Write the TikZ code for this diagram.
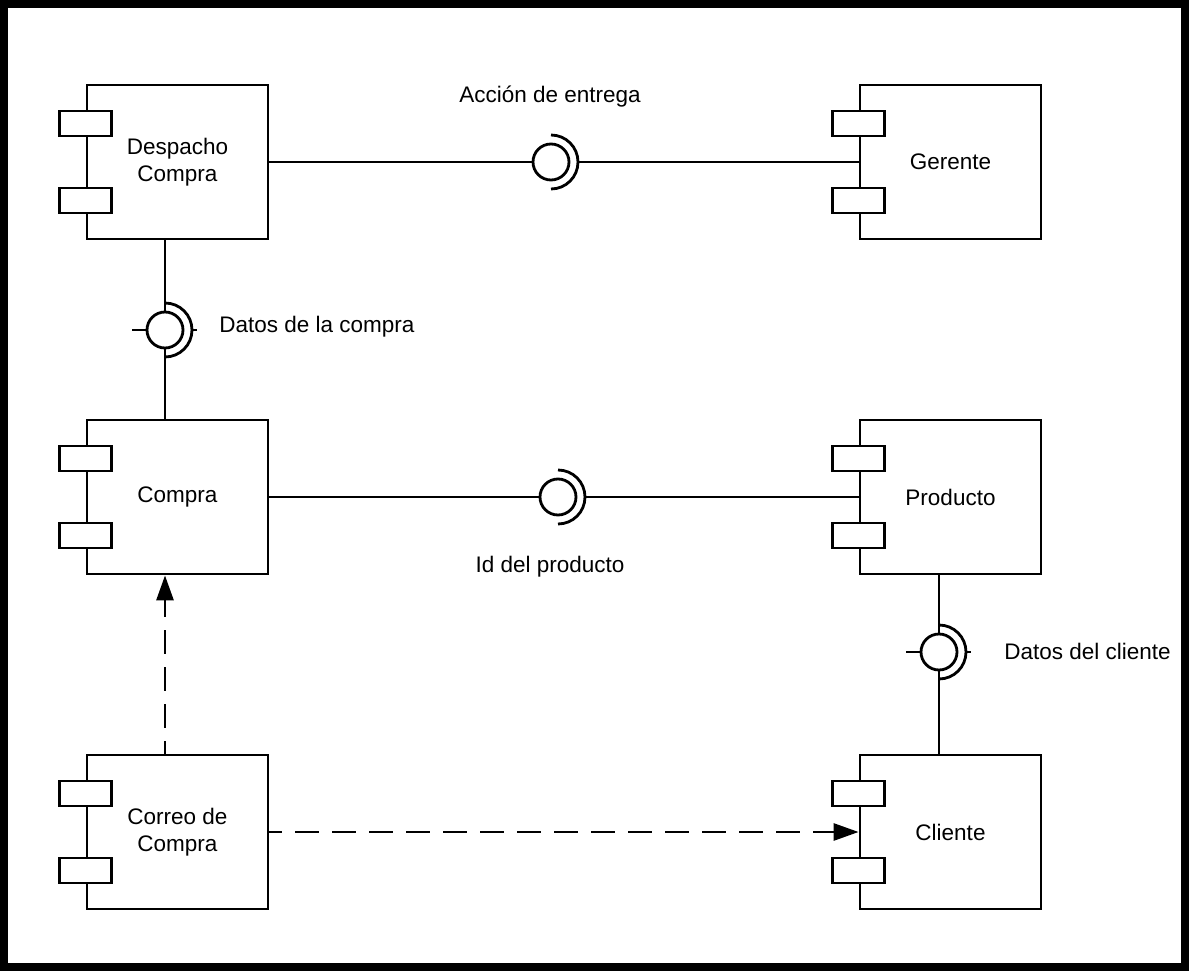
\documentclass[tikz,border=0pt]{standalone}
\usepackage{fontspec}
\setmainfont{Liberation Sans}
\usetikzlibrary{arrows.meta}
\newcommand{\fs}{\fontsize{22.5}{27}\selectfont}
\begin{document}
\begin{tikzpicture}[x=1pt,y=-1pt, line width=2.8pt,
 comp/.style={draw, fill=white, minimum width=181pt, minimum height=154pt, align=center, font=\fs, inner sep=0pt},
 port/.style={draw, fill=white, minimum width=52pt, minimum height=25pt, inner sep=0pt},
 ball/.style={circle, draw, minimum size=36pt, inner sep=0pt},
 lbl/.style={font=\fs, inner sep=0pt},
 dep/.style={dash pattern=on 24pt off 13pt, dash phase=11pt, -{Triangle[length=25pt,width=17pt]}}]
\useasboundingbox (0,0) rectangle (1189,971);
\draw[line width=8pt] (4,4) rectangle (1185,967);
% components
\node[comp] (desp) at (177.5,162) {Despacho\\Compra};
\node[comp] (ger) at (950.5,162) {Gerente};
\node[comp] (comp) at (177.5,497) {Compra};
\node[comp] (prod) at (950.5,497) {Producto};
\node[comp] (corr) at (177.5,832) {Correo de\\Compra};
\node[comp] (cli) at (950.5,832) {Cliente};
\foreach \c in {desp,ger,comp,prod,corr,cli}{
  \node[port] (\c-p1) at ([yshift=38.5pt]\c.west) {};
  \node[port] (\c-p2) at ([yshift=-38.5pt]\c.west) {};
}
% interface: Accion de entrega
\node[ball] (i1) at (551,162) {};
\draw (desp.east) -- (i1.west);
\draw ([yshift=-27pt]i1.center) arc[start angle=-90, end angle=90, radius=27pt];
\draw ([xshift=27pt]i1.center) -- (ger.west);
\node[lbl] (l1) at (550,97) {Acción de entrega};
% interface: Id del producto
\node[ball] (i2) at (558,497) {};
\draw (comp.east) -- (i2.west);
\draw ([yshift=-27pt]i2.center) arc[start angle=-90, end angle=90, radius=27pt];
\draw ([xshift=27pt]i2.center) -- (prod.west);
\node[lbl] (l2) at (550,567) {Id del producto};
% interface: Datos de la compra
\node[ball] (i3) at (165,330) {};
\draw (desp.south -| i3) -- (i3.north);
\draw (i3.south) -- (i3 |- comp.north);
\draw ([yshift=-27pt]i3.center) arc[start angle=-90, end angle=90, radius=27pt];
\draw (i3.west) -- ++(-14,0);
\draw ([xshift=27pt]i3.center) -- ++(5,0);
\node[lbl, anchor=west] (l3) at (218,327) {Datos de la compra};
% interface: Datos del cliente
\node[ball] (i4) at (939,652) {};
\draw (prod.south -| i4) -- (i4.north);
\draw (i4.south) -- (i4 |- cli.north);
\draw ([yshift=-27pt]i4.center) arc[start angle=-90, end angle=90, radius=27pt];
\draw (i4.west) -- ++(-14,0);
\draw ([xshift=27pt]i4.center) -- ++(5,0);
\node[lbl, anchor=west] (l4) at (1003,651) {Datos del cliente};
% dependencies
\draw[dep] (corr.north -| i3) -- (i3 |- comp.south);
\draw[dep] (corr.east) -- (cli.west);
\end{tikzpicture}
\end{document}
